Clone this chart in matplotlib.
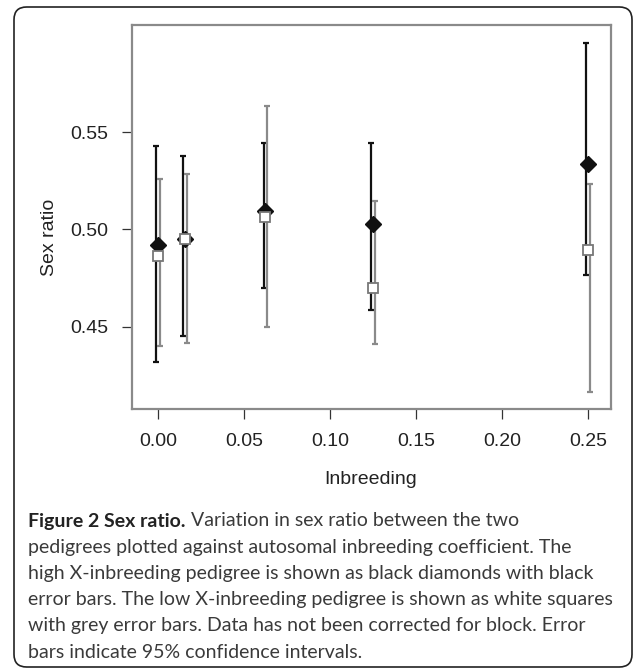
import matplotlib
matplotlib.use("Agg")
import matplotlib.pyplot as plt
from matplotlib.patches import FancyBboxPatch

# autosomal inbreeding coefficient
inbreeding = [0.0, 1 / 64, 1 / 16, 1 / 8, 1 / 4]

# high X-inbreeding pedigree (black diamonds)
high_mean = [0.4922, 0.4952, 0.5097, 0.5026, 0.5337]
high_lo = [0.4319, 0.4456, 0.4699, 0.4585, 0.4769]
high_hi = [0.5427, 0.5376, 0.5443, 0.5443, 0.5956]

# low X-inbreeding pedigree (white squares)
low_mean = [0.4862, 0.4952, 0.5063, 0.4701, 0.4896]
low_lo = [0.4401, 0.4417, 0.4499, 0.4410, 0.4165]
low_hi = [0.5257, 0.5286, 0.5636, 0.5145, 0.5234]

x_ticks = [0.00, 0.05, 0.10, 0.15, 0.20, 0.25]
y_ticks = [0.45, 0.50, 0.55]

caption_bold = "Figure 2 Sex ratio."
caption_lines = [
    " Variation in sex ratio between the two",
    "pedigrees plotted against autosomal inbreeding coefficient. The",
    "high X-inbreeding pedigree is shown as black diamonds with black",
    "error bars. The low X-inbreeding pedigree is shown as white squares",
    "with grey error bars. Data has not been corrected for block. Error",
    "bars indicate 95% confidence intervals.",
]

W, H = 633, 668
fig = plt.figure(figsize=(W / 100, H / 100), dpi=100)
ax = fig.add_axes([132 / W, 1 - 409 / H, (611 - 132) / W, (409 - 25) / H])

off = 0.001
grey = "#8a8a8a"

ax.errorbar([v - off for v in inbreeding], high_mean,
            yerr=[[m - lo for m, lo in zip(high_mean, high_lo)],
                  [hi - m for m, hi in zip(high_mean, high_hi)]],
            fmt="none", ecolor="#111111", elinewidth=1.6, capsize=2.5, capthick=1.6, zorder=2)
ax.errorbar([v + off for v in inbreeding], low_mean,
            yerr=[[m - lo for m, lo in zip(low_mean, low_lo)],
                  [hi - m for m, hi in zip(low_mean, low_hi)]],
            fmt="none", ecolor=grey, elinewidth=1.6, capsize=2.5, capthick=1.6, zorder=3)
ax.plot(inbreeding, high_mean, "D", color="#111111", markersize=8.5, zorder=4)
ax.plot(inbreeding, low_mean, "s", markerfacecolor="white", markeredgecolor="#777777",
        markeredgewidth=1.3, markersize=7.5, zorder=5)

ax.set_xlim(-0.0151, 0.2634)
ax.set_ylim(0.4079, 0.6049)
ax.set_xticks(x_ticks)
ax.set_xticklabels([f"{t:.2f}" for t in x_ticks])
ax.set_yticks(y_ticks)
ax.set_yticklabels([f"{t:.2f}" for t in y_ticks])

for s in ax.spines.values():
    s.set_color(grey)
    s.set_linewidth(1.6)

ax.tick_params(direction="out", length=7, width=0.9, color="#333333", pad=10,
               labelsize=14, labelcolor="#222222")
for lab in ax.get_xticklabels() + ax.get_yticklabels():
    lab.set_family("Liberation Sans")

fig.text(50 / W, 1 - 237 / H, "Sex ratio", rotation=90, ha="center", va="center",
         fontsize=14, family="Liberation Sans", color="#222222")
fig.text(371 / W, 1 - 480 / H, "Inbreeding", ha="center", va="center",
         fontsize=14, family="Liberation Sans", color="#222222")

# caption
cap_font = "Lato"
cap_size = 14.0
cap_x = 28 / W
y0 = 521
dy = 26.2
renderer = fig.canvas.get_renderer()
t = fig.text(cap_x, 1 - y0 / H, caption_bold, ha="left", va="center",
             fontsize=cap_size, family=cap_font, weight="bold", color="#222222")
bb = t.get_window_extent(renderer)
fig.text(bb.x1 / W, 1 - y0 / H, caption_lines[0], ha="left", va="center",
         fontsize=cap_size, family=cap_font, color="#3a3a3a")
for i, line in enumerate(caption_lines[1:], start=1):
    fig.text(cap_x, 1 - (y0 + i * dy) / H, line, ha="left", va="center",
             fontsize=cap_size, family=cap_font, color="#3a3a3a")

# rounded outer frame
frame = FancyBboxPatch((14 / W, 1 - 667 / H), (632 - 14) / W, (667 - 7) / H,
                       boxstyle="round,pad=0,rounding_size=0.02",
                       transform=fig.transFigure, fill=False, edgecolor="#222222",
                       linewidth=1.2, mutation_aspect=W / H)
fig.patches.append(frame)

fig.savefig("out.png", dpi=100)
plt.close(fig)
